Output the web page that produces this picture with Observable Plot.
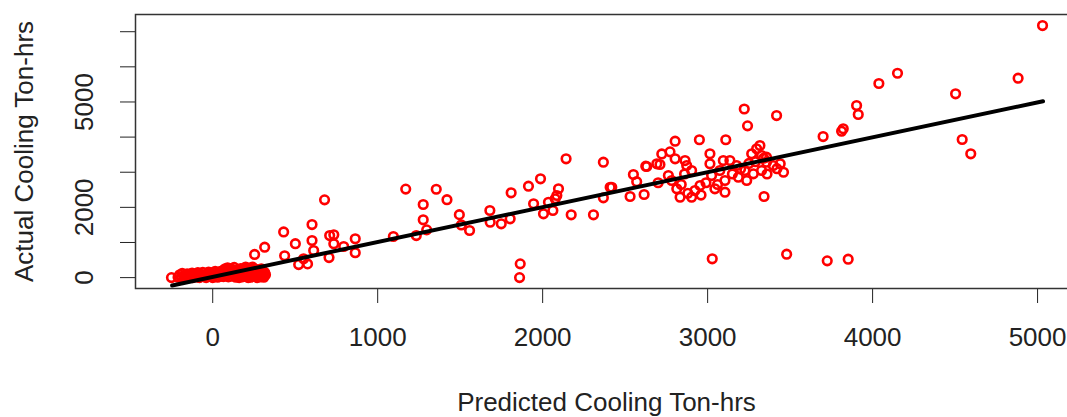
<!DOCTYPE html>
<html>
<head>
<meta charset="utf-8">
<script src="https://cdn.jsdelivr.net/npm/d3@7"></script>
<script src="https://cdn.jsdelivr.net/npm/@observablehq/plot@0.6"></script>
<style>
  html, body { margin: 0; padding: 0; background: #fff; }
  #chart { width: 1067px; height: 417px; overflow: hidden; }
</style>
</head>
<body>
<div id="chart"></div>
<script>
// [predicted, actual] pairs
const nearZero = [
  [-250,0],[-210,10],[-190,0],[-175,20],[-160,0],[-150,40],[-135,10],[-120,0],[-110,60],[-95,20],
  [-80,0],[-70,90],[-55,30],[-40,0],[-30,110],[-15,50],[0,0],[10,140],[20,70],[30,10],
  [45,170],[55,100],[65,30],[80,200],[90,280],[100,120],[110,40],[120,230],[135,60],[145,170],
  [160,0],[170,260],[185,110],[195,240],[205,30],[220,180],[235,70],[245,210],[260,120],[270,0],
  [285,200],[300,60],[315,150],[230,10],[150,100],[60,200]
];
const nearZeroDense = [
  [-200,80],[-185,120],[-170,60],[-155,110],[-140,90],[-125,130],[-105,100],[-90,140],[-75,40],[-60,150],
  [-45,80],[-25,160],[-10,120],[5,60],[15,180],[35,120],[50,40],[70,150],[85,80],[95,20],
  [115,170],[125,100],[140,10],[155,220],[165,130],[175,50],[190,190],[200,90],[210,250],[215,0],
  [225,120],[240,30],[250,260],[255,160],[265,60],[275,220],[280,110],[290,20],[295,250],[305,140],
  [310,10],[320,80],[240,300],[200,300],[130,290],[180,20],[105,260],[75,250]
];
const midRange = [
  [254,660],[315,865],[430,1300],[436,620],[501,965],[521,370],[575,390],[602,1510],[602,1056],[678,2214],
  [709,1198],[734,1218],[705,570],[612,771],[551,535],[864,1104],[864,710],[794,885],[734,962],[1095,1170],
  [1170,2520],[1234,1198],[1276,2081],[1276,1645],[1297,1360],[1355,2516],[1420,2218],[1495,1792],[1507,1500],[1557,1341],
  [1680,1910],[1682,1577],[1749,1531],[1809,2414],[1803,1674],[1914,2602],[1987,2812],[2142,3382],[2368,3285],[1945,2101],
  [2005,1816],[2062,1910],[2076,2243],[2086,2337],[2096,2528],[2035,2146],[2173,1788],[2308,1788],[2368,2272],[2409,2573],
  [1864,392],[1860,0]
];
const cluster3000 = [
  [2550,2935],[2570,2730],[2530,2309],[2615,2366],[2625,3171],[2692,3239],[2722,3520],[2772,3580],[2803,3883],[2950,3925],
  [3110,3925],[3222,4800],[3242,4320],[3418,4614],[3700,4016],[3028,535],[3479,667],[3725,477],[3852,525],[3342,2309],
  [2803,3382],[2863,3333],[2873,3191],[2903,3049],[2762,2906],[2782,2764],[2813,2528],[2833,2290],[2903,2290],[2923,2479],
  [2954,2622],[3014,3524],[3014,3239],[3024,2906],[3044,2528],[3105,2431],[3105,2764],[3095,3333],[3135,3333],[3074,3049],
  [3176,3191],[3186,2858],[3237,2764],[3267,3524],[3297,3666],[3317,3760],[3327,3476],[3357,3285],[3327,3049],[3398,3191],
  [3277,2954],[3226,3049],[2840,2650],[2880,2400],[2960,2350],[2990,2700],[3060,2650],[3150,2950],[3200,3100],[3250,3250],
  [3290,3300],[3360,2950],[3420,3100],[3440,3240],[3460,3000],[3340,3400],[3357,3428],[2711,3220],[2631,3163],[2419,2573],
  [2860,2950],[2700,2700]
];
const upper = [
  [3822,4236],[3812,4168],[3903,4899],[3913,4643],[4038,5526],[4151,5818],[4503,5232],[4543,3931],[4595,3524],[4882,5676],
  [5030,7176]
];
// fitted line endpoints [predicted, fitted]
const fitLine = [[-246,-225],[5033,5021]];

const xTicks = [0, 1000, 2000, 3000, 4000, 5000];
const yTicks = [0, 1000, 2000, 3000, 4000, 5000, 6000, 7000];
const yTickLabels = [0, 2000, 5000];
const xTitle = "Predicted Cooling Ton-hrs";
const yTitle = "Actual Cooling Ton-hrs";

const points = [...nearZero, ...nearZeroDense, ...midRange, ...cluster3000, ...upper].map(([p, a]) => ({p, a}));
const line = fitLine.map(([p, a]) => ({p, a}));

const chart = Plot.plot({
  width: 1067,
  height: 417,
  marginLeft: 135,
  marginRight: -10,
  marginTop: 14,
  marginBottom: 129,
  style: {fontFamily: "'Liberation Sans', Arial, sans-serif", fontSize: "26px", color: "#222", background: "#fff", overflow: "hidden"},
  x: {domain: [-468, 5242], ticks: xTicks, tickSize: 15, tickPadding: 24, tickFormat: d => String(d), label: null},
  y: {domain: [-310, 7490], ticks: yTicks, tickSize: 15, tickFormat: () => "", label: null},
  marks: [
    Plot.dot(points, {x: "p", y: "a", r: 4.3, stroke: "#ff0000", strokeWidth: 2.6, fill: "none"}),
    Plot.line(line, {x: "p", y: "a", stroke: "#000", strokeWidth: 4}),
    Plot.frame({stroke: "#333", strokeWidth: 1.5}),
    Plot.text(yTickLabels, {y: d => d, text: d => String(d), frameAnchor: "left", textAnchor: "middle", rotate: -90, dx: -51, fontSize: 26, fill: "#222"}),
    Plot.text([xTitle], {frameAnchor: "bottom", textAnchor: "middle", dy: 122, fontSize: 26, fill: "#222"}),
    Plot.text([yTitle], {frameAnchor: "left", textAnchor: "middle", rotate: -90, dx: -111, fontSize: 26, fill: "#222"})
  ]
});
document.getElementById("chart").appendChild(chart);
</script>
</body>
</html>
